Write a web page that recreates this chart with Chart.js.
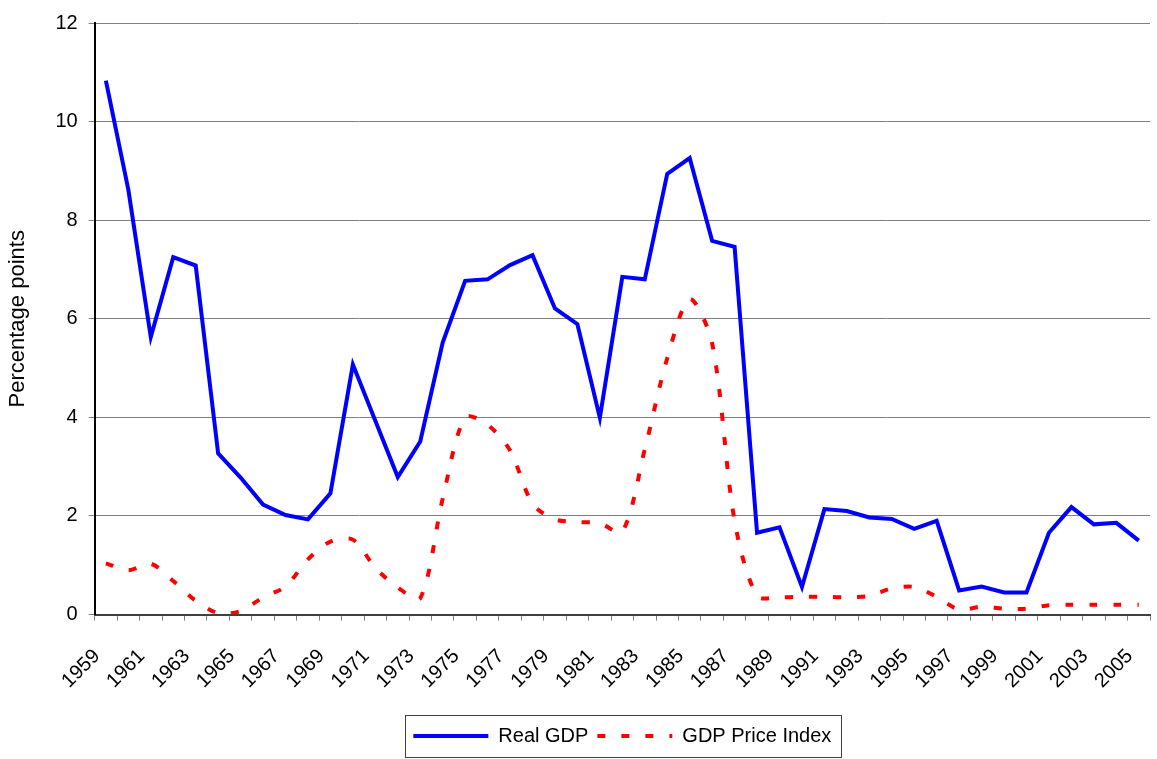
<!DOCTYPE html>
<html>
<head>
<meta charset="utf-8">
<script src="https://cdn.jsdelivr.net/npm/chart.js@4.4.0/dist/chart.umd.min.js"></script>
<style>
  html, body { margin: 0; padding: 0; background: #fff; }
  #wrap { width: 1157px; height: 759px; }
</style>
</head>
<body>
<div id="wrap"><canvas id="myChart" width="1157" height="759"></canvas></div>
<script>
var years = [
    '1959', '1960', '1961', '1962', '1963', '1964', '1965', '1966', '1967', '1968',
    '1969', '1970', '1971', '1972', '1973', '1974', '1975', '1976', '1977', '1978',
    '1979', '1980', '1981', '1982', '1983', '1984', '1985', '1986', '1987', '1988',
    '1989', '1990', '1991', '1992', '1993', '1994', '1995', '1996', '1997', '1998',
    '1999', '2000', '2001', '2002', '2003', '2004', '2005'
];

var realGdp = [
    10.83, 8.62, 5.63, 7.25, 7.08, 3.27, 2.78, 2.23, 2.02, 1.93,
    2.46, 5.07, 3.93, 2.79, 3.51, 5.52, 6.77, 6.80, 7.09, 7.29,
    6.21, 5.89, 3.99, 6.85, 6.80, 8.94, 9.26, 7.58, 7.46, 1.66,
    1.77, 0.56, 2.14, 2.10, 1.97, 1.94, 1.74, 1.90, 0.49, 0.57,
    0.45, 0.45, 1.66, 2.18, 1.83, 1.86, 1.50
];

var priceIndex = [
    1.04, 0.90, 1.03, 0.68, 0.28, 0.03, 0.07, 0.35, 0.57, 1.12,
    1.48, 1.52, 0.95, 0.55, 0.33, 2.35, 4.00, 3.85, 3.33, 2.25,
    1.93, 1.88, 1.85, 1.68, 3.35, 5.20, 6.40, 5.50, 1.90, 0.38,
    0.35, 0.36, 0.36, 0.35, 0.38, 0.53, 0.56, 0.36, 0.10, 0.16,
    0.12, 0.12, 0.19, 0.20, 0.20, 0.20, 0.20
];

var yTicks = [0, 2, 4, 6, 8, 10, 12];

var font = '"Liberation Sans", Arial, sans-serif';
Chart.defaults.font.family = font;
Chart.defaults.color = '#000';

// legend sits under the plot area, with a thin box round it
var legendBox = {
    id: 'legendBox',
    afterLayout: function(chart) {
        var lg = chart.legend;
        lg.left = chart.chartArea.left;
        lg.right = chart.chartArea.right;
        lg.width = lg.right - lg.left;
    },
    afterDraw: function(chart) {
        var hb = chart.legend.legendHitBoxes;
        if (!hb || !hb.length) return;
        var last = hb[hb.length - 1];
        var x0 = hb[0].left - 8;
        var x1 = last.left + last.width + 10;
        var y0 = hb[0].top - 11;
        var y1 = hb[0].top + hb[0].height + 11;
        var ctx = chart.ctx;
        ctx.save();
        ctx.strokeStyle = '#404040';
        ctx.lineWidth = 1;
        ctx.strokeRect(Math.round(x0) + 0.5, Math.round(y0) + 0.5, Math.round(x1 - x0), Math.round(y1 - y0));
        ctx.restore();
    }
};

var ctx = document.getElementById('myChart').getContext('2d');

var myChart = new Chart(ctx, {
    type: 'line',
    data: {
        labels: years,
        datasets: [{
            label: 'Real GDP',
            data: realGdp,
            borderColor: '#0000FF',
            backgroundColor: '#0000FF',
            borderWidth: 4,
            pointRadius: 0,
            tension: 0,
            fill: false
        }, {
            label: 'GDP Price Index',
            data: priceIndex,
            borderColor: '#FF0000',
            backgroundColor: '#FF0000',
            borderWidth: 4,
            borderDash: [8, 16],
            pointRadius: 0,
            tension: 0.3,
            fill: false
        }]
    },
    options: {
        responsive: false,
        animation: false,
        devicePixelRatio: 1,
        layout: {
            padding: { left: 2, right: 7, top: 18, bottom: 3 }
        },
        plugins: {
            tooltip: { enabled: false },
            legend: {
                position: 'bottom',
                labels: {
                    usePointStyle: true,
                    pointStyle: 'line',
                    pointStyleWidth: 75,
                    boxWidth: 75,
                    padding: 9,
                    color: '#000',
                    font: { size: 20, family: font },
                    generateLabels: function(chart) {
                        var items = Chart.defaults.plugins.legend.labels.generateLabels(chart);
                        items.forEach(function(it) {
                            var ds = chart.data.datasets[it.datasetIndex];
                            it.lineDash = ds.borderDash || [];
                            it.lineWidth = ds.borderWidth;
                            it.strokeStyle = ds.borderColor;
                            it.pointStyle = 'line';
                        });
                        return items;
                    }
                }
            }
        },
        scales: {
            x: {
                offset: true,
                afterFit: function(scale) {
                    scale.paddingLeft = 0;
                    scale.paddingRight = 0;
                },
                grid: {
                    offset: true,
                    drawOnChartArea: true,
                    color: function(c) {
                        return c.index === years.length ? '#808080' : 'rgba(0,0,0,0)';
                    },
                    tickColor: '#808080',
                    tickLength: 6,
                    lineWidth: 1
                },
                border: { color: '#404040', width: 2 },
                ticks: {
                    autoSkip: false,
                    minRotation: 45,
                    maxRotation: 45,
                    padding: 24,
                    labelOffset: -9,
                    color: '#000',
                    font: { size: 20, family: font },
                    callback: function(value, index) {
                        return index % 2 === 0 ? years[index] : '';
                    }
                }
            },
            y: {
                min: yTicks[0],
                max: yTicks[yTicks.length - 1],
                grid: {
                    color: '#808080',
                    tickColor: '#808080',
                    tickLength: 6,
                    lineWidth: 1
                },
                border: { color: '#000', width: 2 },
                ticks: {
                    stepSize: 2,
                    padding: 11,
                    color: '#000',
                    font: { size: 20, family: font }
                },
                title: {
                    display: true,
                    text: 'Percentage points',
                    color: '#000',
                    font: { size: 22, family: font },
                    padding: { top: 3, bottom: 13 }
                }
            }
        }
    },
    plugins: [legendBox]
});
</script>
</body>
</html>
